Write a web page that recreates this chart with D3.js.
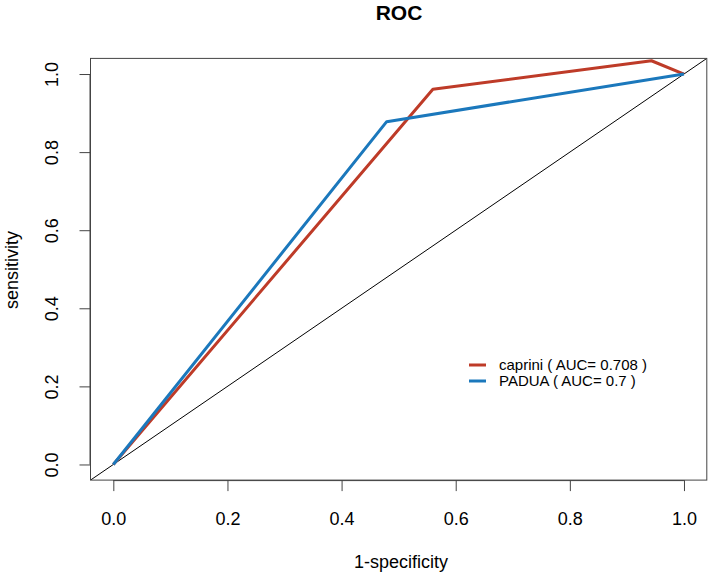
<!DOCTYPE html>
<html><head><meta charset="utf-8">
<script src="https://cdn.jsdelivr.net/npm/d3@7"></script>
<style>body{margin:0;background:#fff}svg{display:block}text{font-family:"Liberation Sans",Arial,sans-serif}</style>
</head><body>
<svg id="c" width="708" height="577"></svg>
<script>
const title = "ROC";
const xLabel = "1-specificity";
const yLabel = "sensitivity";
const ticks = [0, 0.2, 0.4, 0.6, 0.8, 1.0];
const seriesNames = ["caprini ( AUC= 0.708 )", "PADUA ( AUC= 0.7 )"];
const seriesColors = ["#BE3B28", "#1B78BC"];
const capriniX = [0, 0.560, 0.943, 1];
const capriniY = [0, 0.961, 1.034, 1];
const paduaX = [0, 0.479, 1];
const paduaY = [0, 0.878, 1];
const diagX = [-0.04, 1.04];
const diagY = [-0.04, 1.04];

const svg = d3.select("#c");
const L = 90.5, R = 706.8, T = 58.4, B = 480.1;
const x = d3.scaleLinear().domain([-0.04, 1.04]).range([L, R]);
const y = d3.scaleLinear().domain([-0.04, 1.04]).range([B, T]);

svg.append("defs").append("clipPath").attr("id","clip")
  .append("rect").attr("x",L).attr("y",T).attr("width",R-L).attr("height",B-T);

const line = d3.line().x(d=>x(d[0])).y(d=>y(d[1]));
const g = svg.append("g").attr("clip-path","url(#clip)");
g.append("path").datum(diagX.map((v,i)=>[v,diagY[i]])).attr("d",line)
  .attr("fill","none").attr("stroke","#000").attr("stroke-width",1);
const series = [capriniX.map((v,i)=>[v,capriniY[i]]), paduaX.map((v,i)=>[v,paduaY[i]])];
series.forEach((s,i)=>{
  g.append("path").datum(s).attr("d",line).attr("fill","none")
   .attr("stroke",seriesColors[i]).attr("stroke-width",3).attr("stroke-linejoin","round");
});

// box
svg.append("rect").attr("x",L).attr("y",T).attr("width",R-L).attr("height",B-T)
  .attr("fill","none").attr("stroke","#444").attr("stroke-width",1);

// axes
const fmt = d3.format(".1f");
const xa = svg.append("g").attr("transform",`translate(0,${B})`)
  .call(d3.axisBottom(x).tickValues(ticks).tickFormat(fmt).tickSize(11).tickPadding(21).tickSizeOuter(0));
xa.select(".domain").attr("stroke","#444").attr("d",`M${x(0)},0.5H${x(1)}`);
xa.selectAll(".tick line").attr("stroke","#444");
xa.selectAll(".tick text").attr("font-size",18).attr("fill","#000")
  .attr("font-family","Liberation Sans, Arial, sans-serif");

const ya = svg.append("g").attr("transform",`translate(${L},0)`)
  .call(d3.axisLeft(y).tickValues(ticks).tickFormat(fmt).tickSize(11).tickPadding(0).tickSizeOuter(0));
ya.select(".domain").attr("stroke","#444").attr("d",`M-0.5,${y(0)}V${y(1)}`);
ya.selectAll(".tick line").attr("stroke","#444");
ya.selectAll(".tick text").attr("font-size",18).attr("fill","#000")
  .attr("font-family","Liberation Sans, Arial, sans-serif")
  .attr("x",null).attr("dy",null)
  .attr("transform",`translate(${58-L},0) rotate(-90)`)
  .attr("text-anchor","middle");

// titles
svg.append("text").attr("x",399).attr("y",20).attr("text-anchor","middle")
  .attr("font-size",21).attr("font-weight","bold").text(title);
svg.append("text").attr("x",401).attr("y",568).attr("text-anchor","middle")
  .attr("font-size",18).text(xLabel);
svg.append("text").attr("transform","translate(18,270) rotate(-90)").attr("text-anchor","middle")
  .attr("font-size",18).text(yLabel);

// legend
seriesNames.forEach((n,i)=>{
  const yy = 365 + i*16;
  svg.append("line").attr("x1",469).attr("x2",486).attr("y1",yy).attr("y2",yy)
    .attr("stroke",seriesColors[i]).attr("stroke-width",3);
  svg.append("text").attr("x",499).attr("y",yy+5).attr("font-size",15).text(n);
});
</script>
</body></html>
